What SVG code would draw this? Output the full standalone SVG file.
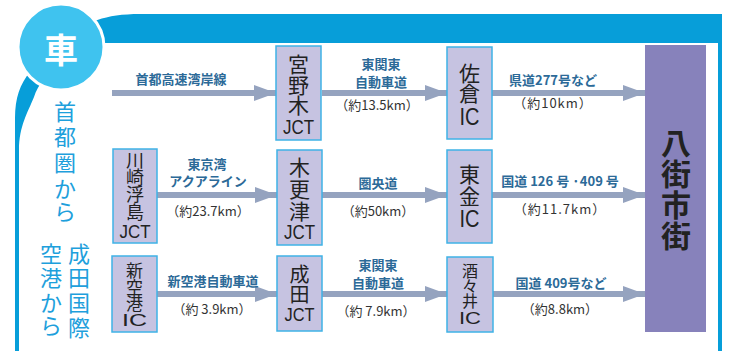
<svg xmlns="http://www.w3.org/2000/svg" width="731" height="351" viewBox="0 0 731 351">
<style>
.frame{fill:#079ed9}
.node{fill:#c6c3e1;stroke:#3fb3e6;stroke-width:1.5}
.nt{font-family:"Noto Sans CJK JP","Liberation Sans",sans-serif;fill:#222;text-anchor:middle;dominant-baseline:central}
.lat{font-family:"Liberation Sans","Noto Sans CJK JP",sans-serif;fill:#222;text-anchor:middle;dominant-baseline:central}
.lbl{font-family:"Noto Sans CJK JP",sans-serif;font-weight:bold;font-size:13px;fill:#2c6a98;text-anchor:middle;dominant-baseline:central}
.dst{font-family:"Noto Sans CJK JP",sans-serif;font-size:13px;fill:#333;text-anchor:middle;dominant-baseline:central}
.side{font-family:"Noto Sans CJK JP",sans-serif;font-size:22px;fill:#1ea0dc;text-anchor:middle;dominant-baseline:central}
.arr{stroke:#95a3bf;stroke-width:6;fill:none}
</style>
<defs>
<marker id="ah" viewBox="0 0 22 16" refX="22" refY="8" markerWidth="22" markerHeight="16" markerUnits="userSpaceOnUse" orient="auto">
<path d="M0,0 L22,8 L0,16 Z" fill="#95a3bf"/>
</marker>
</defs>
<rect width="731" height="351" fill="#fff"/>
<g id="frame">
<path class="frame" d="M15,351 L15,118 C15,98 20,84 30,72 L70,38 C85,22 105,14 140,14 L722,14 L722,351 L718,351 L718,43 L105,43 C72,43 42,74 34,97 C28,112 19,126 19,150 L19,351 Z"/>
<circle cx="61" cy="47" r="43" fill="#3fc3ef" stroke="#fff" stroke-width="3"/>
<text x="61" y="48" style="font-family:'Noto Sans CJK JP',sans-serif;font-weight:bold;font-size:34px;fill:#fff;text-anchor:middle;dominant-baseline:central">車</text>
</g>
<g id="side-labels">
<text class="side" x="65" y="110">首</text>
<text class="side" x="65" y="135">都</text>
<text class="side" x="65" y="161">圏</text>
<text class="side" x="65" y="187">か</text>
<text class="side" x="65" y="210">ら</text>
<text class="side" x="79" y="252">成</text>
<text class="side" x="79" y="276">田</text>
<text class="side" x="79" y="301">国</text>
<text class="side" x="79" y="326">際</text>
<text class="side" x="51" y="252">空</text>
<text class="side" x="51" y="276">港</text>
<text class="side" x="51" y="301">か</text>
<text class="side" x="51" y="324">ら</text>
</g>
<g id="connectors">
<line class="arr" x1="112" y1="93" x2="276" y2="93" marker-end="url(#ah)"/>
<line class="arr" x1="322" y1="93" x2="447" y2="93" marker-end="url(#ah)"/>
<line class="arr" x1="492" y1="93" x2="645" y2="93" marker-end="url(#ah)"/>
<line class="arr" x1="157" y1="195" x2="277" y2="195" marker-end="url(#ah)"/>
<line class="arr" x1="322" y1="195" x2="447" y2="195" marker-end="url(#ah)"/>
<line class="arr" x1="492" y1="195" x2="645" y2="195" marker-end="url(#ah)"/>
<line class="arr" x1="157" y1="294" x2="277" y2="294" marker-end="url(#ah)"/>
<line class="arr" x1="322" y1="294" x2="447" y2="294" marker-end="url(#ah)"/>
<line class="arr" x1="493" y1="294" x2="645" y2="294" marker-end="url(#ah)"/>
<text class="lbl" x="181" y="78">首都高速湾岸線</text>
<text class="lbl" x="381" y="63">東関東</text>
<text class="lbl" x="381" y="81">自動車道</text>
<text class="dst" x="377" y="104">（約13.5km）</text>
<text class="lbl" x="553" y="79">県道277号など</text>
<text class="dst" x="553" y="102" letter-spacing="1">（約10km）</text>
<text class="lbl" x="207" y="163">東京湾</text>
<text class="lbl" x="208" y="180">アクアライン</text>
<text class="dst" x="208" y="210">（約23.7km）</text>
<text class="lbl" x="378" y="182">圏央道</text>
<text class="dst" x="378" y="210">（約50km）</text>
<text class="lbl" x="560" y="180">国道 126 号 ·409 号</text>
<text class="dst" x="560" y="208" letter-spacing="1">（約11.7km）</text>
<text class="lbl" x="213" y="280">新空港自動車道</text>
<text class="dst" x="212" y="308">（約 3.9km）</text>
<text class="lbl" x="378" y="264">東関東</text>
<text class="lbl" x="378" y="282">自動車道</text>
<text class="dst" x="376" y="310">（約 7.9km）</text>
<text class="lbl" x="561" y="282">国道 409号など</text>
<text class="dst" x="560" y="308">（約8.8km）</text>
</g>
<g id="n-miyanogi">
<rect class="node" x="276" y="46" width="45" height="94"/>
<text class="nt" x="298.5" y="63" font-size="21">宮</text>
<text class="nt" x="298.5" y="84" font-size="21">野</text>
<text class="nt" x="298.5" y="104" font-size="21">木</text>
<text class="lat" x="298.5" y="126" font-size="21" textLength="31" lengthAdjust="spacingAndGlyphs">JCT</text>
</g>
<g id="n-kawasaki">
<rect class="node" x="113" y="149" width="44" height="94"/>
<text class="nt" x="135" y="159" font-size="18">川</text>
<text class="nt" x="135" y="176" font-size="18">崎</text>
<text class="nt" x="135" y="193" font-size="18">浮</text>
<text class="nt" x="135" y="211" font-size="18">島</text>
<text class="lat" x="135" y="231" font-size="19" textLength="31" lengthAdjust="spacingAndGlyphs">JCT</text>
</g>
<g id="n-kisarazu">
<rect class="node" x="277" y="150" width="45" height="95"/>
<text class="nt" x="299.5" y="166" font-size="21">木</text>
<text class="nt" x="299.5" y="188" font-size="21">更</text>
<text class="nt" x="299.5" y="210" font-size="21">津</text>
<text class="lat" x="299.5" y="232" font-size="20" textLength="31" lengthAdjust="spacingAndGlyphs">JCT</text>
</g>
<g id="n-shinkuko">
<rect class="node" x="112" y="256" width="45" height="76"/>
<text class="nt" x="134.5" y="269" font-size="17">新</text>
<text class="nt" x="134.5" y="286" font-size="17">空</text>
<text class="nt" x="134.5" y="302" font-size="17">港</text>
<text class="lat" x="134.5" y="320" font-size="17" textLength="25" lengthAdjust="spacingAndGlyphs">IC</text>
</g>
<g id="n-narita">
<rect class="node" x="277" y="256" width="45" height="75"/>
<text class="nt" x="299.5" y="273" font-size="20">成</text>
<text class="nt" x="299.5" y="293" font-size="20">田</text>
<text class="lat" x="299.5" y="314" font-size="19" textLength="30" lengthAdjust="spacingAndGlyphs">JCT</text>
</g>
<g id="n-sakura">
<rect class="node" x="447" y="47" width="45" height="92"/>
<text class="nt" x="469.5" y="72" font-size="21">佐</text>
<text class="nt" x="469.5" y="92" font-size="21">倉</text>
<text class="lat" x="469.5" y="116" font-size="24" textLength="20" lengthAdjust="spacingAndGlyphs">IC</text>
</g>
<g id="n-togane">
<rect class="node" x="447" y="150" width="45" height="93"/>
<text class="nt" x="469.5" y="173" font-size="21">東</text>
<text class="nt" x="469.5" y="195" font-size="21">金</text>
<text class="lat" x="469.5" y="218" font-size="24" textLength="20" lengthAdjust="spacingAndGlyphs">IC</text>
</g>
<g id="n-shisui">
<rect class="node" x="447" y="257" width="46" height="75"/>
<text class="nt" x="470" y="270" font-size="16">酒</text>
<text class="nt" x="470" y="285" font-size="16">々</text>
<text class="nt" x="470" y="300" font-size="16">井</text>
<text class="lat" x="470" y="318" font-size="16" textLength="22" lengthAdjust="spacingAndGlyphs">IC</text>
</g>
<g id="n-yachimata">
<rect x="645" y="45" width="61" height="287" fill="#8782bb"/>
<text class="nt" x="676" y="141" font-size="30" font-weight="bold">八</text>
<text class="nt" x="676" y="172" font-size="30" font-weight="bold">街</text>
<text class="nt" x="676" y="203" font-size="30" font-weight="bold">市</text>
<text class="nt" x="676" y="234" font-size="30" font-weight="bold">街</text>
</g>
</svg>
